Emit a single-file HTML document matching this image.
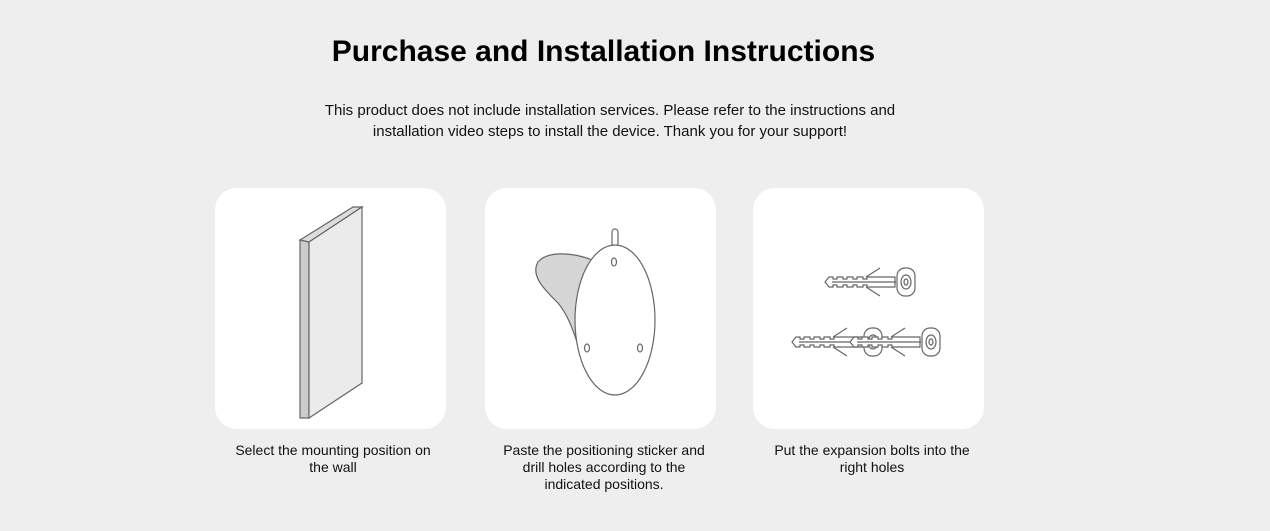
<!DOCTYPE html>
<html><head><style>
body{margin:0;width:1270px;height:531px;background:#efeeee;font-family:"Liberation Sans",sans-serif;position:relative;overflow:hidden}
h1{position:absolute;top:35px;left:0;width:1207px;text-align:center;margin:0;font-size:30px;font-weight:bold;color:#000}
.sub{position:absolute;top:100px;left:0;width:1220px;text-align:center;font-size:15px;line-height:21px;color:#111}
.card{position:absolute;top:188px;width:231px;height:241px;background:#fff;border-radius:22px}
.cap{position:absolute;top:442px;width:260px;text-align:center;font-size:14px;line-height:17px;color:#111}
svg{position:absolute;left:0;top:0}
</style></head><body>
<h1>Purchase and Installation Instructions</h1>
<div class="sub">This product does not include installation services. Please refer to the instructions and<br>installation video steps to install the device. Thank you for your support!</div>
<div class="card" style="left:215px"></div>
<div class="card" style="left:485px"></div>
<div class="card" style="left:753px"></div>
<div class="cap" style="left:203px">Select the mounting position on<br>the wall</div>
<div class="cap" style="left:474px">Paste the positioning sticker and<br>drill holes according to the<br>indicated positions.</div>
<div class="cap" style="left:742px">Put the expansion bolts into the<br>right holes</div>
<svg width="1270" height="531" fill="none" stroke="#666" stroke-width="1.2">
<polygon points="300,240 309,242 309,418 300,418" fill="#ccc"/>
<polygon points="300,240 353,207 362,207 309,242" fill="#ddd"/>
<polygon points="309,242 362,207 362,383 309,418" fill="#ebebeb"/>
<path d="M592,260 C575,253 548,250 538,262 C530,276 545,290 558,303 C568,315 573,330 578,345 L600,300 Z" fill="#d6d6d6"/>
<rect x="612" y="229" width="6" height="17" rx="3" fill="#fff"/>
<ellipse cx="615" cy="320" rx="40" ry="75" fill="#fff"/>
<ellipse cx="614" cy="262" rx="2.5" ry="4"/>
<ellipse cx="587" cy="348" rx="2.5" ry="4"/>
<ellipse cx="640" cy="348" rx="2.5" ry="4"/>
<g id="b">
<path d="M829,277 h4 v2 h4 v-2 h6 v2 h4 v-2 h6 v2 h4 v-2 h6 v2 h4 v-2 h28 v10 h-28 v-2 h-4 v2 h-6 v-2 h-4 v2 h-6 v-2 h-4 v2 h-6 v-2 h-4 v2 h-4 l-4,-5z" fill="#fff"/>
<path d="M832,282 h64"/>
<path d="M866,277 l14,-9 M866,287 l14,9"/>
<rect x="897" y="268" width="18" height="28" rx="8" fill="#fff"/>
<ellipse cx="906" cy="282" rx="5" ry="7"/>
<ellipse cx="906" cy="282" rx="2" ry="3"/>
</g>
<use href="#b" transform="translate(-33,60)"/>
<use href="#b" transform="translate(25,60)"/>
</svg>
</body></html>
